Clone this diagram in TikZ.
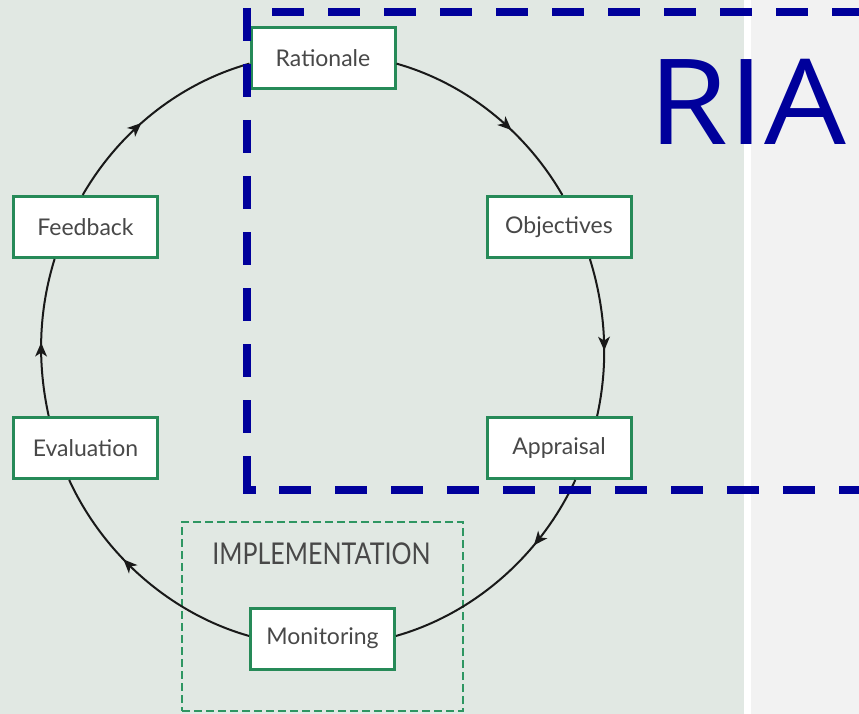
\documentclass[tikz,border=0pt]{standalone}
\usepackage{fontspec}
\setmainfont{Lato}
\newfontfamily\stagefont{Lato}
\newfontfamily\riafont{Open Sans}
\usetikzlibrary{arrows.meta,decorations.markings}
\definecolor{bggreen}{RGB}{225,232,227}
\definecolor{bggray}{RGB}{242,242,242}
\definecolor{boxgreen}{RGB}{38,138,88}
\definecolor{framegreen}{RGB}{46,150,98}
\definecolor{textgray}{RGB}{72,72,72}
\definecolor{riablue}{RGB}{0,0,155}
\tikzset{
  stage/.style={draw=boxgreen, line width=3pt, fill=white, minimum width=144pt,
    minimum height=61pt, inner sep=0pt, text=textgray,
    font=\stagefont\fontsize{23}{27}\selectfont},
  implframe/.style={draw=framegreen, line width=2.2pt, dash pattern=on 8pt off 4pt,
    minimum width=281pt, minimum height=189pt, inner sep=0pt},
  cycle/.style={draw=black!90, line width=2pt, looseness=0.88},
  flowmark/.style={postaction={decorate}, decoration={markings,
    mark=at position #1 with {\fill[black!90] (4pt,0pt) -- (-10pt,6pt) -- (-6pt,0pt) -- (-10pt,-6pt) -- cycle;}}},
  riadash/.style={draw=riablue, line width=8pt}
}
\begin{document}
\begin{tikzpicture}[x=1pt,y=1pt]
\useasboundingbox (0,0) rectangle (859,-714);
% backgrounds
\fill[bggreen] (0,0) rectangle (744,-714);
\fill[white] (744,0) rectangle (751,-714);
\fill[bggray] (751,0) rectangle (859,-714);

% implementation frame and label
\node[implframe] (implbox) at (322.5,-616.5) {};
\node[text=textgray, font=\stagefont\fontsize{25}{30}\selectfont, inner sep=0pt]
  (impl) at (321.5,-554) {\scalebox{1}[1.2]{IMPLEMENTATION}};

% stages
\node[stage] (Rationale)  at (323,-58.5)   {Rationale};
\node[stage] (Objectives) at (559,-227)    {Objectives};
\node[stage] (Appraisal)  at (559,-448)    {Appraisal};
\node[stage] (Monitoring) at (322.5,-638.5){Monitoring};
\node[stage] (Evaluation) at (85.5,-448)   {Evaluation};
\node[stage] (Feedback)   at (85.5,-227)   {Feedback};

% cycle connectors
\draw[cycle, flowmark=0.60] (Rationale.-4.5) to[out=-15.8, in=120] (Objectives.84);
\draw[cycle, flowmark=0.56] (Objectives.-46) to[out=-72.8, in=77.6] (Appraisal.40);
\draw[cycle, flowmark=0.30] (Appraisal.-63) to[out=-114.7, in=15.8] (Monitoring.2);
\draw[cycle, flowmark=0.59] (Monitoring.178) to[out=164.2, in=-65.3] (Evaluation.-117);
\draw[cycle, flowmark=0.44] (Evaluation.139) to[out=102.4, in=-107.2] (Feedback.-134);
\draw[cycle, flowmark=0.41] (Feedback.95) to[out=60, in=195.6] (Rationale.184);

% RIA frame (dashes drawn one by one)
\foreach \k in {0,...,10} {
  \draw[riadash] ({272+56*\k},-12) -- ({304+56*\k},-12);
  \draw[riadash] ({279+56*\k},-490) -- ({311+56*\k},-490);
}
\foreach \k in {0,...,8} {
  \draw[riadash] (247,{-8-56*\k}) -- (247,{-41-56*\k});
}
\draw[riadash] (243,-490) -- (256,-490);
\node[text=riablue, font=\riafont\fontsize{119}{140}\selectfont, inner sep=0pt,
  anchor=base west] (ria) at (648,-145) {\scalebox{1.086}[1]{RIA}};
\end{tikzpicture}
\end{document}
